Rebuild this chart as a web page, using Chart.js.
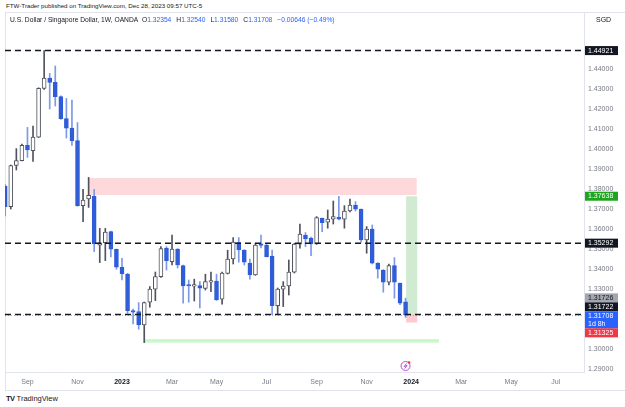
<!DOCTYPE html>
<html>
<head>
<meta charset="utf-8">
<script src="https://cdn.jsdelivr.net/npm/chart.js@4.4.0/dist/chart.umd.min.js"></script>
<style>
  html, body { margin: 0; padding: 0; background: #fff; }
  body { width: 625px; height: 407px; position: relative; overflow: hidden; font-family: "Liberation Sans", Arial, sans-serif; color: #131722; }
  #frame { position: absolute; left: 5px; top: 12px; width: 620px; height: 379px; border-left: 1px solid #e0e3eb; border-top: 1px solid #e0e3eb; border-bottom: 1px solid #e0e3eb; box-sizing: border-box; }
  #wrap { position: absolute; left: 5px; top: 12px; width: 620px; height: 378px; }
  .txt { position: absolute; white-space: nowrap; z-index: 2; }
  #pub { left: 6px; top: 2px; font-size: 6.2px; }
  #legend { left: 10px; top: 16px; font-size: 6.7px; background: rgba(255,255,255,0.8); }
  #legend .v { color: #2962ff; margin-right: 5px; }
  #ccy { left: 596px; top: 16px; font-size: 7px; }
  #footer { left: 6px; top: 394px; font-size: 7.5px; }
  #footer b { letter-spacing: -0.5px; margin-right: 2px; }
</style>
</head>
<body>
<div id="frame"></div>
<div id="wrap"><canvas id="chart" width="620" height="378"></canvas></div>
<div class="txt" id="pub">FTW-Trader published on TradingView.com, Dec 28, 2023 09:57 UTC-5</div>
<div class="txt" id="legend"></div>
<div class="txt" id="ccy">SGD</div>
<div class="txt" id="footer"><b>TV</b>TradingView</div>
<script>
// -------------------------------
// Weekly USD/SGD candles (week 0 = week of 2 Jan 2023)
// -------------------------------
const weeks = [-21,-20,-19,-18,-17,-16,-15,-14,-13,-12,-11,-10,-9,-8,-7,-6,-5,-4,-3,-2,-1,
  0,1,2,3,4,5,6,7,8,9,10,11,12,13,14,15,16,17,18,19,20,21,22,23,24,25,
  26,27,28,29,30,31,32,33,34,35,36,37,38,39,40,41,42,43,44,45,46,47,48,49,50,51];
const opens = [1.3815,1.3712,1.3918,1.3942,1.4018,1.3992,1.4059,1.4303,1.4355,1.4333,1.4262,1.4152,1.4104,1.4042,1.3717,1.3750,1.3765,1.3519,1.3532,1.3587,1.3498,
  1.3408,1.3375,1.3190,1.3187,1.3120,1.3234,1.3299,1.3362,1.3504,1.3437,1.3499,1.3417,1.3318,1.3314,1.3317,1.3303,1.3334,1.3340,1.3249,1.3378,1.3450,1.3532,1.3495,1.3429,1.3370,1.3522,
  1.3520,1.3465,1.3217,1.3299,1.3315,1.3384,1.3524,1.3570,1.3554,1.3525,1.3654,1.3634,1.3649,1.3660,1.3649,1.3690,1.3720,1.3699,1.3545,1.3600,1.3429,1.3395,1.3334,1.3417,1.3329,1.32354];
const highs = [1.3822,1.3920,1.4002,1.4025,1.4108,1.4115,1.4306,1.44921,1.4378,1.4415,1.4266,1.4253,1.4245,1.4132,1.3798,1.3858,1.3798,1.3603,1.3603,1.3590,1.3500,
  1.3453,1.3378,1.3200,1.3232,1.3235,1.3312,1.3385,1.3512,1.3512,1.3570,1.3502,1.3420,1.3345,1.3349,1.3337,1.3374,1.3384,1.3374,1.3384,1.3494,1.3557,1.3557,1.3497,1.3450,1.3529,1.3570,
  1.3529,1.3494,1.3305,1.3337,1.3445,1.3529,1.3624,1.3582,1.3560,1.3662,1.3655,1.3695,1.3740,1.37638,1.3717,1.3749,1.3737,1.3700,1.3612,1.3620,1.3432,1.3397,1.3425,1.3457,1.3330,1.32540];
const lows = [1.3665,1.3700,1.3895,1.3940,1.3958,1.3938,1.4057,1.4298,1.4200,1.4215,1.4148,1.4055,1.4018,1.3714,1.3637,1.3708,1.3487,1.3432,1.3442,1.3460,1.3399,
  1.3345,1.3178,1.3125,1.3099,1.3032,1.3209,1.3242,1.3358,1.3395,1.3420,1.3405,1.3229,1.3234,1.3240,1.3205,1.3295,1.3287,1.3243,1.3224,1.3375,1.3425,1.3434,1.3420,1.3349,1.3368,1.3505,
  1.3460,1.3172,1.3172,1.3212,1.3270,1.3380,1.3504,1.3512,1.3467,1.3523,1.3587,1.3604,1.3625,1.3645,1.3604,1.3685,1.3690,1.3534,1.3479,1.3425,1.3354,1.3284,1.3320,1.3254,1.3222,1.31580];
const closes = [1.3712,1.3917,1.3942,1.4018,1.3995,1.4059,1.4303,1.4355,1.4333,1.4262,1.4152,1.4104,1.4042,1.3717,1.3745,1.3768,1.3525,1.3531,1.3585,1.3499,1.3409,
  1.3375,1.3192,1.3184,1.3120,1.3232,1.3299,1.3362,1.3502,1.3442,1.3499,1.3420,1.3315,1.3315,1.3317,1.3304,1.3337,1.3338,1.3245,1.3379,1.3450,1.3534,1.3495,1.3434,1.3370,1.3520,1.3518,
  1.3462,1.3217,1.3300,1.3315,1.3384,1.3525,1.3574,1.3550,1.3525,1.3657,1.3632,1.3650,1.3662,1.3649,1.3690,1.3720,1.3699,1.3545,1.3600,1.3429,1.3399,1.3334,1.3417,1.3334,1.3229,1.31708];

// Axis ticks
const priceTicks = [1.29,1.30,1.31,1.32,1.33,1.34,1.35,1.36,1.37,1.38,1.39,1.40,1.41,1.42,1.43,1.44,1.45];
const timeTickWeeks = [-17,-8,0,9,17,26,35,44,52,61,70,78];
const timeTickLabels = ["Sep","Nov","2023","Mar","May","Jul","Sep","Nov","2024","Mar","May","Jul"];

// Drawings: [fromWeek, toWeek, bottomPrice, topPrice]
const supplyZone = [-6, 53, 1.3770, 1.3855];
const lowZone = [4.1, 57, 1.3032, 1.3049];
// long position tool: weeks, then target / entry / stop
const longWeeks = [51.1, 53.1];
const longLevels = [1.37638, 1.31722, 1.31325];
const dashedLevels = [1.44921, 1.35292, 1.31722];
const lastPrice = 1.31708;
const prevCloseTag = 1.31726;

const upColor = "#50535e";
const downColor = "#2f5cd8";
const downWick = "#7d98e8";

// -------------------------------
// Legend text from the last candle
// -------------------------------
const n = closes.length - 1;
const change = closes[n] - opens[n];
const legend = document.getElementById("legend");
legend.innerHTML = "U.S. Dollar / Singapore Dollar, 1W, OANDA&nbsp; " +
  "O<span class='v'>" + opens[n].toFixed(5) + "</span>" +
  "H<span class='v'>" + highs[n].toFixed(5) + "</span>" +
  "L<span class='v'>" + lows[n].toFixed(5) + "</span>" +
  "C<span class='v'>" + closes[n].toFixed(5) + "</span>" +
  "<span class='v'>\u2212" + Math.abs(change).toFixed(5) + " (\u2212" + Math.abs(change / opens[n] * 100).toFixed(2) + "%)</span>";

// -------------------------------
// Build datasets
// -------------------------------
const isUp = closes.map((c, i) => c >= opens[i]);
const bodyData = weeks.map((w, i) => ({ x: w, y: [opens[i], closes[i]] }));
const wickData = weeks.map((w, i) => ({ x: w, y: [lows[i], highs[i]] }));

// -------------------------------
// Drawings plugin
// -------------------------------
function tag(ctx, yTop, h, bg, fg, lines, left) {
  ctx.fillStyle = bg;
  ctx.fillRect(left, yTop, 33, h);
  ctx.fillStyle = fg;
  ctx.font = "7px 'Liberation Sans', Arial, sans-serif";
  ctx.textAlign = "left";
  ctx.textBaseline = "middle";
  lines.forEach((t, k) => ctx.fillText(t, left + 3, yTop + 4.7 + k * 8.5));
}

const drawings = {
  id: "drawings",
  beforeDatasetsDraw(chart) {
    const { ctx, chartArea: a, scales: { x, y } } = chart;
    ctx.save();
    ctx.beginPath();
    ctx.rect(a.left, a.top, a.width, a.height);
    ctx.clip();
    const zone = (z, color) => {
      const x0 = x.getPixelForValue(z[0]), x1 = x.getPixelForValue(z[1]);
      const y0 = y.getPixelForValue(z[3]), y1 = y.getPixelForValue(z[2]);
      ctx.fillStyle = color;
      ctx.fillRect(x0, y0, x1 - x0, y1 - y0);
    };
    zone(supplyZone, "rgba(247,82,95,0.22)");
    zone(lowZone, "rgba(110,235,110,0.38)");
    zone([longWeeks[0], longWeeks[1], longLevels[1], longLevels[0]], "rgba(76,175,80,0.26)");
    zone([longWeeks[0], longWeeks[1], longLevels[2], longLevels[1]], "rgba(247,82,95,0.3)");
    ctx.restore();
  },
  afterDatasetsDraw(chart) {
    const { ctx, chartArea: a, scales: { y } } = chart;
    ctx.save();
    // last price dotted line
    ctx.strokeStyle = "rgba(41,98,255,0.45)";
    ctx.lineWidth = 1;
    ctx.setLineDash([1, 2]);
    const yp = Math.round(y.getPixelForValue(lastPrice)) + 0.5;
    ctx.beginPath();
    ctx.moveTo(a.left, yp);
    ctx.lineTo(a.right, yp);
    ctx.stroke();
    // horizontal levels
    ctx.strokeStyle = "#131722";
    ctx.lineWidth = 1.5;
    ctx.setLineDash([6, 4]);
    dashedLevels.forEach(v => {
      const yy = y.getPixelForValue(v);
      ctx.beginPath();
      ctx.moveTo(a.left, yy);
      ctx.lineTo(a.right, yy);
      ctx.stroke();
    });
    ctx.restore();
  },
  afterDraw(chart) {
    const { ctx, chartArea: a, scales: { x, y } } = chart;
    const left = a.right + 1;
    ctx.save();
    tag(ctx, y.getPixelForValue(1.44921) - 4.5, 9, "#131722", "#fff", ["1.44921"], left);
    tag(ctx, y.getPixelForValue(longLevels[0]) - 4.5, 9, "#1ea51e", "#fff", [longLevels[0].toFixed(5)], left);
    tag(ctx, y.getPixelForValue(1.35292) - 4.5, 9, "#131722", "#fff", ["1.35292"], left);
    // stacked tags around the current price
    const top = y.getPixelForValue(lastPrice) - 3.5;
    tag(ctx, top - 18, 9, "#a3a6af", "#131722", [prevCloseTag.toFixed(5)], left);
    tag(ctx, top - 9, 9, "#131722", "#fff", [longLevels[1].toFixed(5)], left);
    tag(ctx, top, 17, "#2962ff", "#fff", [lastPrice.toFixed(5), "1d 8h"], left);
    tag(ctx, top + 17, 9, "#f23645", "#fff", [longLevels[2].toFixed(5)], left);

    // event marker under the last candle
    const mx = x.getPixelForValue(51), my = a.bottom - 6;
    ctx.strokeStyle = "#b052d0";
    ctx.lineWidth = 1;
    ctx.beginPath();
    ctx.arc(mx, my, 4.5, 0, Math.PI * 2);
    ctx.stroke();
    ctx.beginPath();
    ctx.moveTo(mx + 1, my - 2.5);
    ctx.lineTo(mx - 1.5, my + 0.5);
    ctx.lineTo(mx + 1.5, my - 0.5);
    ctx.lineTo(mx - 1, my + 2.5);
    ctx.stroke();
    ctx.fillStyle = "#f23645";
    ctx.beginPath();
    ctx.arc(mx + 3.5, my - 3.5, 1.3, 0, Math.PI * 2);
    ctx.fill();
    ctx.restore();
  }
};

// -------------------------------
// Chart
// -------------------------------
const ctx = document.getElementById("chart").getContext("2d");
new Chart(ctx, {
  type: "bar",
  data: {
    datasets: [
      {
        data: bodyData,
        order: 0,
        barThickness: 4,
        minBarLength: 1.5,
        borderWidth: 1,
        borderSkipped: false,
        backgroundColor: isUp.map(u => (u ? "#ffffff" : downColor)),
        borderColor: isUp.map(u => (u ? upColor : downColor)),
      },
      {
        data: wickData,
        order: 1,
        barThickness: 1,
        borderWidth: 0,
        backgroundColor: isUp.map(u => (u ? upColor : downWick)),
      },
    ],
  },
  options: {
    responsive: false,
    animation: false,
    events: [],
    grouped: false,
    layout: { padding: 0 },
    plugins: { legend: { display: false }, tooltip: { enabled: false } },
    scales: {
      x: {
        type: "linear",
        offset: false,
        min: -21.04,
        max: 83.09,
        grid: { display: false, drawTicks: false },
        border: { display: true, color: "#e0e3eb" },
        afterFit: s => { s.height = 18; s.paddingLeft = 0; s.paddingRight = 0; },
        afterBuildTicks: s => { s.ticks = timeTickWeeks.map(v => ({ value: v })); },
        ticks: {
          autoSkip: false,
          maxRotation: 0,
          padding: 6,
          callback: v => timeTickLabels[timeTickWeeks.indexOf(v)],
          color: c => (timeTickLabels[c.index] && timeTickLabels[c.index].length === 4 ? "#131722" : "#787b86"),
          font: c => ({ family: "'Liberation Sans', Arial, sans-serif", size: 7, weight: timeTickLabels[c.index] && timeTickLabels[c.index].length === 4 ? "bold" : "normal" }),
        },
      },
      y: {
        position: "right",
        min: 1.2885,
        max: 1.4685,
        grid: { display: false, drawTicks: false },
        border: { display: true, color: "#e0e3eb" },
        afterFit: s => { s.width = 41; s.paddingTop = 0; s.paddingBottom = 0; },
        afterBuildTicks: s => { s.ticks = priceTicks.map(v => ({ value: v })); },
        ticks: {
          padding: 4,
          color: "#787b86",
          font: { family: "'Liberation Sans', Arial, sans-serif", size: 7 },
          callback: v => v.toFixed(5),
        },
      },
    },
  },
  plugins: [drawings],
});
</script>
</body>
</html>
